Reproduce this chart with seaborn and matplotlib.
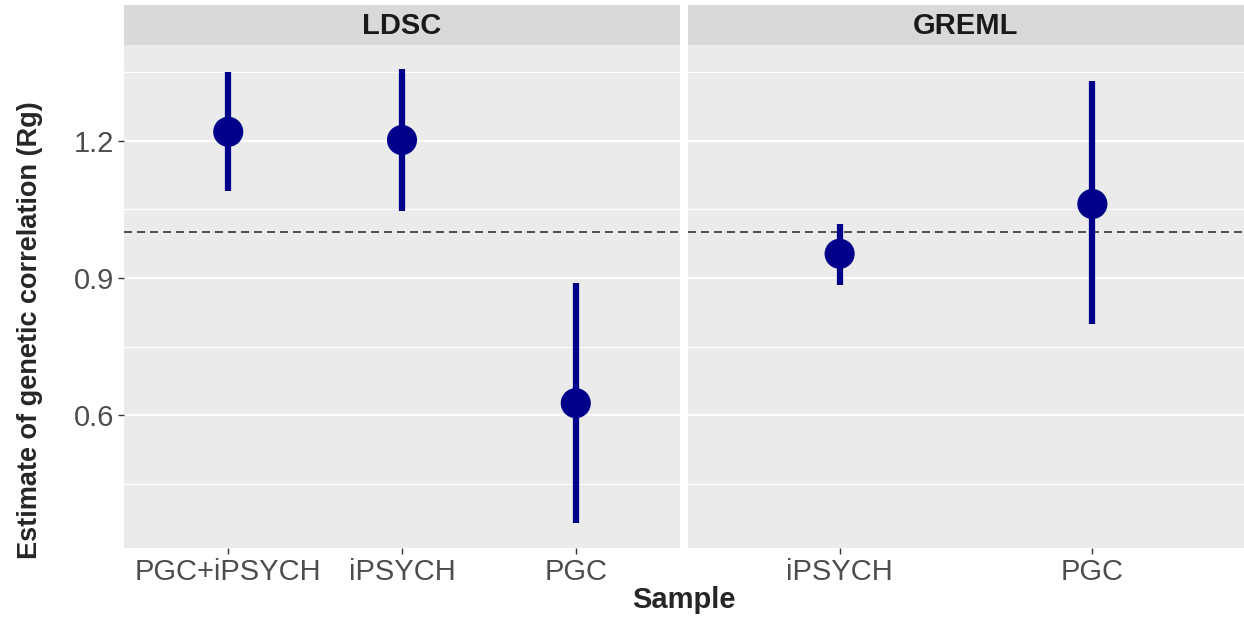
import pandas as pd
import matplotlib.pyplot as plt
import seaborn as sns

# values
methods = ['LDSC', 'LDSC', 'LDSC', 'GREML', 'GREML']
samples = ['PGC+iPSYCH', 'iPSYCH', 'PGC', 'iPSYCH', 'PGC']
rg = [1.22, 1.202, 0.626, 0.953, 1.062]
rg_low = [1.09, 1.047, 0.364, 0.885, 0.799]
rg_high = [1.351, 1.358, 0.889, 1.018, 1.331]

df = pd.DataFrame({'Method': methods, 'Sample': samples, 'Rg': rg,
                   'low': rg_low, 'high': rg_high})

sns.set_theme(style='darkgrid', rc={'axes.facecolor': '#EBEBEB',
                                    'grid.color': 'white'})
plt.rcParams['font.family'] = ['Liberation Sans', 'DejaVu Sans']

fig = plt.figure(figsize=(12.44, 6.19), dpi=100)
W, H = 1244, 619
panels = [('LDSC', 124, 680), ('GREML', 688, 1244)]
top, bottom, strip_top = 45, 548, 5

for name, x0, x1 in panels:
    ax = fig.add_axes([x0 / W, (H - bottom) / H, (x1 - x0) / W, (bottom - top) / H])
    sub = df[df['Method'] == name].reset_index(drop=True)
    ax.vlines(sub['Sample'], sub['low'], sub['high'], color='#00008B', lw=4.5, zorder=3)
    sns.scatterplot(data=sub, x='Sample', y='Rg', ax=ax, color='#00008B', s=470,
                    edgecolor='none', zorder=4)
    ax.axhline(1.0, color='#333333', ls=(0, (4.8, 3)), lw=1.2, zorder=2)
    ax.set_xlim(-0.6, len(sub) - 1 + 0.6)
    ax.set_ylim(0.309, 1.41)
    ax.set_yticks([0.6, 0.9, 1.2])
    ax.set_yticks([0.45, 0.75, 1.05, 1.35], minor=True)
    ax.grid(False)
    ax.grid(axis='y', which='major', color='white', lw=1.4)
    ax.grid(axis='y', which='minor', color='white', lw=0.8)
    ax.tick_params(axis='both', which='major', labelsize=21, labelcolor='#4D4D4D',
                   length=4, width=1, color='#333333', bottom=True, left=True, pad=3)
    ax.tick_params(which='minor', length=0)
    for s in ax.spines.values():
        s.set_visible(False)
    ax.set_xlabel('')
    ax.set_ylabel('')
    if name != 'LDSC':
        ax.tick_params(axis='y', left=False, labelleft=False)
    # facet strip
    sax = fig.add_axes([x0 / W, (H - top) / H, (x1 - x0) / W, (top - strip_top) / H])
    sax.set_facecolor('#D9D9D9')
    sax.set_xticks([])
    sax.set_yticks([])
    sax.grid(False)
    for s in sax.spines.values():
        s.set_visible(False)
    sax.text(0.5, 0.47, name, ha='center', va='center', fontsize=21,
             fontweight='bold', color='#1A1A1A', transform=sax.transAxes)

fig.text(684 / W, 1 - 600 / H, 'Sample', ha='center', va='center',
         fontsize=21, fontweight='bold')
fig.text(30 / W, 1 - 330 / H, 'Estimate of genetic correlation (Rg)', ha='center',
         va='center', rotation=90, fontsize=19.5, fontweight='bold')

plt.savefig('out.png', dpi=100)
plt.close()
